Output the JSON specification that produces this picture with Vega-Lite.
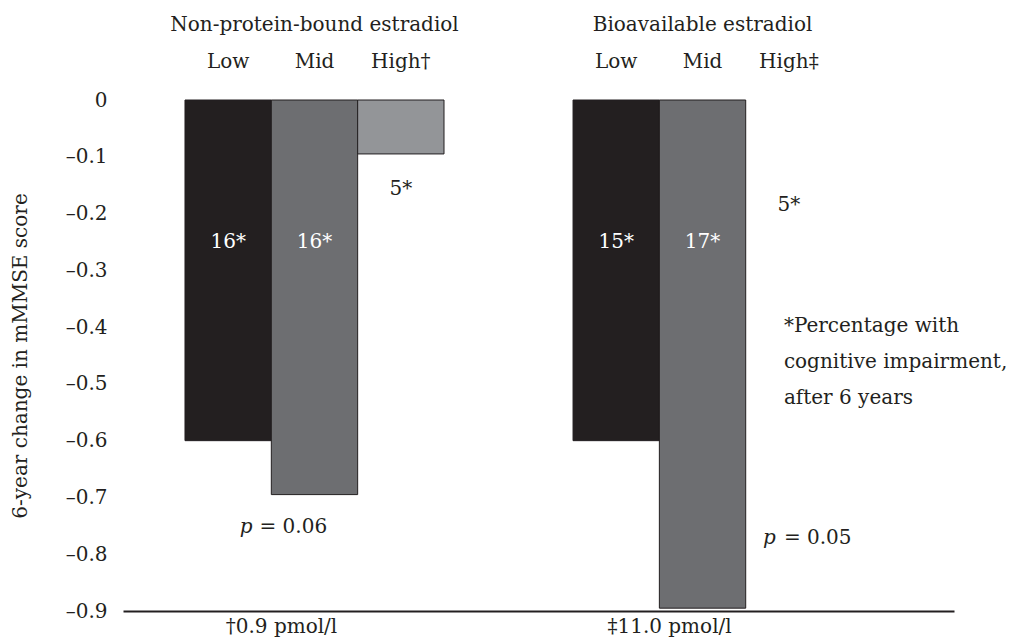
{
  "$schema": "https://vega.github.io/schema/vega-lite/v6.json",
  "width": 831,
  "height": 511,
  "autosize": {"type": "none"},
  "padding": {"left": 123, "top": 100, "right": 56, "bottom": 30},
  "background": "white",
  "config": {
    "font": "DejaVu Serif",
    "view": {"stroke": null},
    "text": {"fontSize": 20, "color": "#231f20"}
  },
  "datasets": {
    "bars": [
      {"group": "NPB", "level": "Low", "v": -0.6},
      {"group": "NPB", "level": "Mid", "v": -0.695},
      {"group": "NPB", "level": "High", "v": -0.095},
      {"group": "BIO", "level": "Low", "v": -0.6},
      {"group": "BIO", "level": "Mid", "v": -0.895}
    ],
    "pct": [
      {"group": "NPB", "level": "Low", "v": -0.25, "label": "16*"},
      {"group": "NPB", "level": "Mid", "v": -0.25, "label": "16*"},
      {"group": "NPB", "level": "High", "v": -0.157, "label": "5*"},
      {"group": "BIO", "level": "Low", "v": -0.25, "label": "15*"},
      {"group": "BIO", "level": "Mid", "v": -0.25, "label": "17*"},
      {"group": "BIO", "level": "High", "v": -0.185, "label": "5*"}
    ],
    "levels": [
      {"group": "NPB", "level": "Low", "v": 0, "name": "Low"},
      {"group": "NPB", "level": "Mid", "v": 0, "name": "Mid"},
      {"group": "NPB", "level": "High", "v": 0, "name": "High†"},
      {"group": "BIO", "level": "Low", "v": 0, "name": "Low"},
      {"group": "BIO", "level": "Mid", "v": 0, "name": "Mid"},
      {"group": "BIO", "level": "High", "v": 0, "name": "High‡"}
    ],
    "groups": [
      {"group": "NPB", "v": 0, "title": "Non-protein-bound estradiol"},
      {"group": "BIO", "v": 0, "title": "Bioavailable estradiol"}
    ],
    "pv": [
      {"group": "NPB", "level": "Mid", "v": -0.752, "p": "p", "rest": "= 0.06"},
      {"group": "BIO", "level": "High", "v": -0.771, "p": "p", "rest": "= 0.05"}
    ],
    "note": [
      {"group": "BIO", "level": "High", "v": -0.398, "text": "*Percentage with\ncognitive impairment,\nafter 6 years"}
    ]
  },
  "encoding": {
    "x": {
      "field": "group",
      "type": "nominal",
      "sort": null,
      "scale": {"domain": ["NPB", "BIO"], "paddingInner": 0.3325, "paddingOuter": 0.237, "align": 0.337},
      "axis": {
        "title": null,
        "orient": "bottom",
        "domain": true,
        "domainColor": "#231f20",
        "domainWidth": 2,
        "ticks": false,
        "labelAngle": 0,
        "labelExpr": "datum.value == 'NPB' ? '†0.9 pmol/l' : '‡11.0 pmol/l'",
        "labelOffset": -33,
        "labelPadding": 5,
        "labelFontSize": 20,
        "labelColor": "#231f20"
      }
    },
    "y": {
      "field": "v",
      "type": "quantitative",
      "scale": {"domain": [-0.9, 0], "nice": false, "zero": false},
      "axis": {
        "title": "6-year change in mMMSE score",
        "values": [0, -0.1, -0.2, -0.3, -0.4, -0.5, -0.6, -0.7, -0.8, -0.9],
        "labelExpr": "datum.value == 0 ? '0' : '–' + format(abs(datum.value), '.1f')",
        "domain": false,
        "ticks": false,
        "grid": false,
        "labelPadding": 16,
        "labelFontSize": 20,
        "labelColor": "#231f20",
        "titleFontSize": 20,
        "titleFontWeight": "normal",
        "titleColor": "#231f20",
        "titlePadding": 35
      }
    }
  },
  "layer": [
    {
      "data": {"name": "bars"},
      "mark": {"type": "bar", "stroke": "#231f20", "strokeWidth": 1},
      "encoding": {
        "xOffset": {"field": "level", "type": "nominal", "sort": null, "scale": {"domain": ["Low", "Mid", "High"], "paddingInner": 0, "paddingOuter": 0}},
        "color": {
          "field": "level",
          "type": "nominal",
          "scale": {"domain": ["Low", "Mid", "High"], "range": ["#231f20", "#6d6e71", "#939598"]},
          "legend": null
        }
      }
    },
    {
      "data": {"name": "pct"},
      "mark": {"type": "text", "baseline": "middle", "align": "center", "fontSize": 20},
      "encoding": {
        "xOffset": {"field": "level", "type": "nominal", "sort": null, "scale": {"domain": ["Low", "Mid", "High"], "paddingInner": 0, "paddingOuter": 0}},
        "text": {"field": "label"},
        "color": {"condition": {"test": "datum.level != 'High'", "value": "white"}, "value": "#231f20"}
      }
    },
    {
      "data": {"name": "levels"},
      "mark": {"type": "text", "baseline": "alphabetic", "align": "center", "dy": -32, "fontSize": 20},
      "encoding": {
        "xOffset": {"field": "level", "type": "nominal", "sort": null, "scale": {"domain": ["Low", "Mid", "High"], "paddingInner": 0, "paddingOuter": 0}},
        "text": {"field": "name"}
      }
    },
    {
      "data": {"name": "groups"},
      "mark": {"type": "text", "baseline": "alphabetic", "align": "center", "dy": -69, "fontSize": 20},
      "encoding": {
        "text": {"field": "title"}
      }
    },
    {
      "data": {"name": "pv"},
      "transform": [{"filter": "datum.group == 'NPB'"}],
      "mark": {"type": "text", "baseline": "middle", "align": "right", "dx": -62, "fontStyle": "italic", "fontSize": 20},
      "encoding": {
        "xOffset": {"field": "level", "type": "nominal", "sort": null, "scale": {"domain": ["Low", "Mid", "High"], "paddingInner": 0, "paddingOuter": 0}},
        "text": {"field": "p"}
      }
    },
    {
      "data": {"name": "pv"},
      "transform": [{"filter": "datum.group == 'NPB'"}],
      "mark": {"type": "text", "baseline": "middle", "align": "left", "dx": -55, "fontSize": 20},
      "encoding": {
        "xOffset": {"field": "level", "type": "nominal", "sort": null, "scale": {"domain": ["Low", "Mid", "High"], "paddingInner": 0, "paddingOuter": 0}},
        "text": {"field": "rest"}
      }
    },
    {
      "data": {"name": "pv"},
      "transform": [{"filter": "datum.group == 'BIO'"}],
      "mark": {"type": "text", "baseline": "middle", "align": "right", "dx": -13, "fontStyle": "italic", "fontSize": 20},
      "encoding": {
        "xOffset": {"field": "level", "type": "nominal", "sort": null, "scale": {"domain": ["Low", "Mid", "High"], "paddingInner": 0, "paddingOuter": 0}},
        "text": {"field": "p"}
      }
    },
    {
      "data": {"name": "pv"},
      "transform": [{"filter": "datum.group == 'BIO'"}],
      "mark": {"type": "text", "baseline": "middle", "align": "left", "dx": -5, "fontSize": 20},
      "encoding": {
        "xOffset": {"field": "level", "type": "nominal", "sort": null, "scale": {"domain": ["Low", "Mid", "High"], "paddingInner": 0, "paddingOuter": 0}},
        "text": {"field": "rest"}
      }
    },
    {
      "data": {"name": "note"},
      "mark": {"type": "text", "baseline": "middle", "align": "left", "dx": -5, "fontSize": 20, "lineBreak": "\n", "lineHeight": 36},
      "encoding": {
        "xOffset": {"field": "level", "type": "nominal", "sort": null, "scale": {"domain": ["Low", "Mid", "High"], "paddingInner": 0, "paddingOuter": 0}},
        "text": {"field": "text"}
      }
    }
  ]
}
